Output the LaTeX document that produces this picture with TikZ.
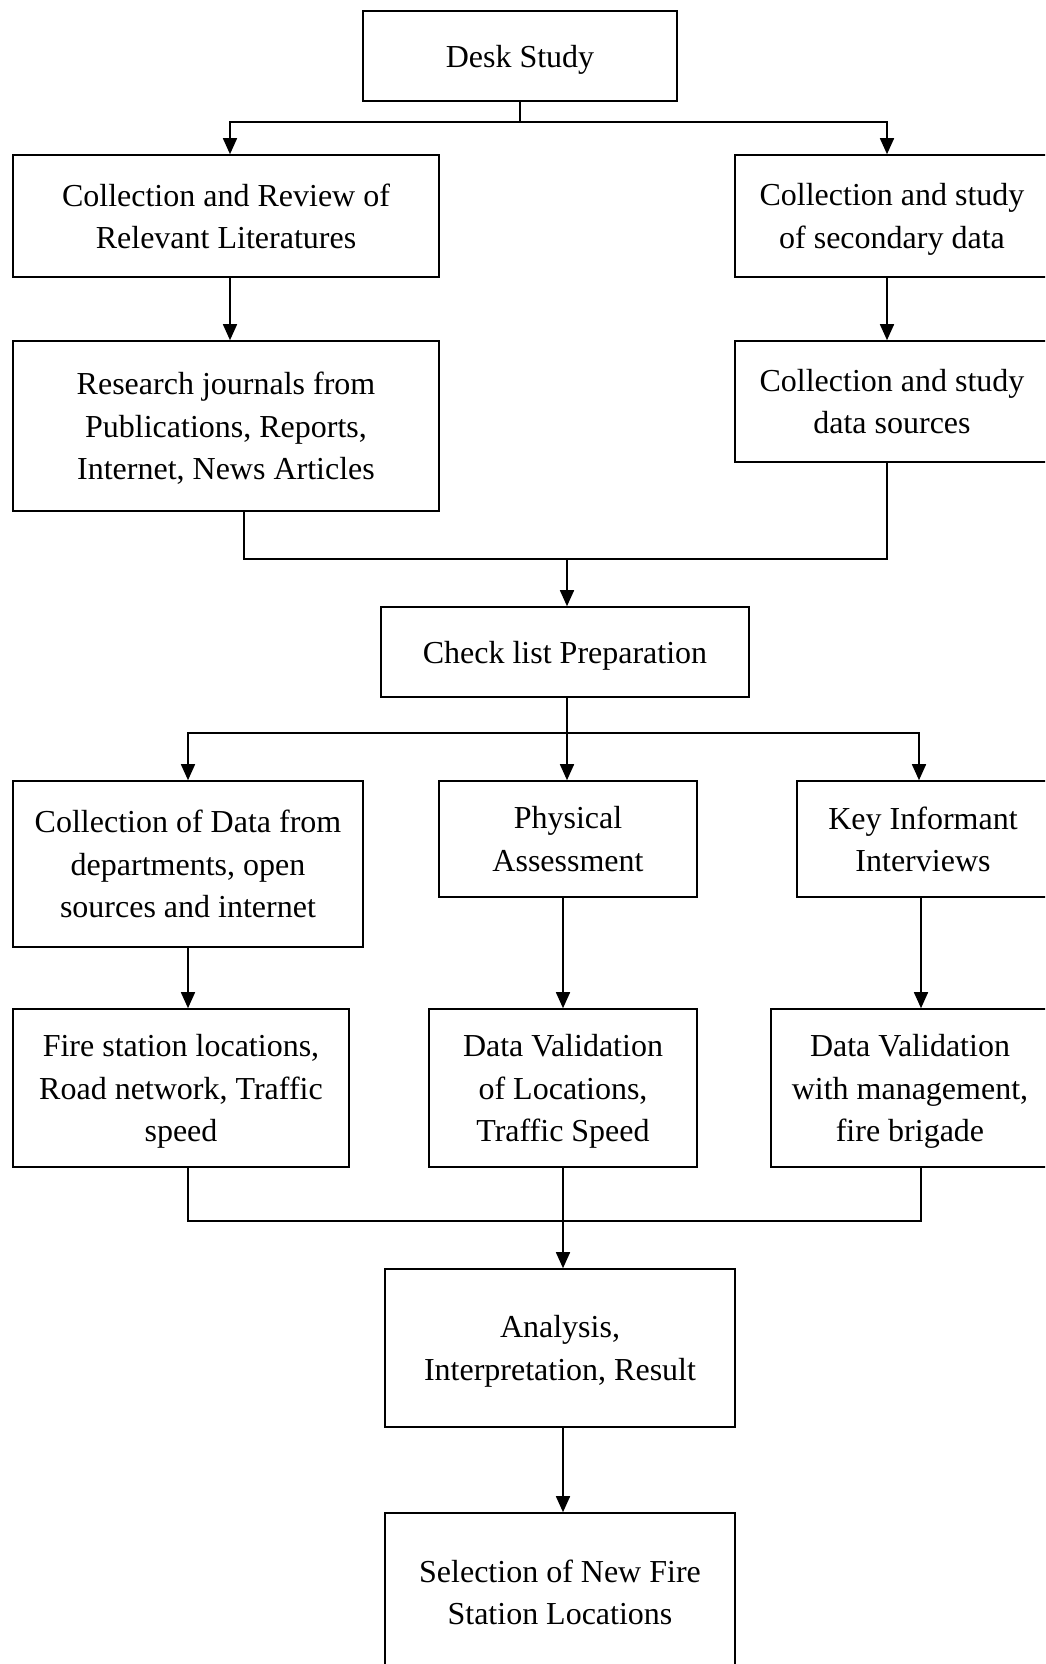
\documentclass[tikz,border=0pt]{standalone}
\usepackage{fontspec}
\setmainfont{Liberation Serif}
\usetikzlibrary{arrows.meta}

\begin{document}
\begin{tikzpicture}[x=0.5pt,y=-0.5pt,
  box/.style={draw,line width=0.8pt,align=center,inner sep=0pt,text depth=0pt,
    font=\fontsize{16}{21.2}\selectfont},
  link/.style={line width=0.8pt},
  arr/.style={line width=0.8pt,-{Triangle[length=8pt,width=7pt]}}]
  \clip (0,0) rectangle (1045,1664);

  \node[box,minimum width=157pt,minimum height=45pt]   (desk)      at (520,56)   {Desk Study};
  \node[box,minimum width=213pt,minimum height=61pt]   (litRev)    at (226,216)  {Collection and Review of\\Relevant Literatures};
  \node[box,minimum width=157pt,minimum height=61pt]   (secData)   at (892,216)  {Collection and study\\of secondary data};
  \node[box,minimum width=213pt,minimum height=85pt]   (journals)  at (226,426)  {Research journals from\\Publications, Reports,\\Internet, News Articles};
  \node[box,minimum width=157pt,minimum height=60.5pt] (dataSrc)   at (892,401.5){Collection and study\\data sources};
  \node[box,minimum width=184pt,minimum height=45pt]   (checkList) at (565,652)  {Check list Preparation};
  \node[box,minimum width=175pt,minimum height=83pt]   (collData)  at (188,864)  {Collection of Data from\\departments, open\\sources and internet};
  \node[box,minimum width=129pt,minimum height=58pt]   (physAss)   at (568,839)  {Physical\\Assessment};
  \node[box,minimum width=126pt,minimum height=58pt]   (keyInf)    at (923,839)  {Key Informant\\Interviews};
  \node[box,minimum width=168pt,minimum height=79pt]   (fireLoc)   at (181,1088) {Fire station locations,\\Road network, Traffic\\speed};
  \node[box,minimum width=134pt,minimum height=79pt]   (valLoc)    at (563,1088) {Data Validation\\of Locations,\\Traffic Speed};
  \node[box,minimum width=139pt,minimum height=79pt]   (valMgmt)   at (910,1088) {Data Validation\\with management,\\fire brigade};
  \node[box,minimum width=175pt,minimum height=79pt]   (analysis)  at (560,1348) {Analysis,\\Interpretation, Result};
  \node[box,minimum width=175pt,minimum height=79pt]   (selection) at (560,1592) {Selection of New Fire\\Station Locations};

  \coordinate (splitA) at (520,122);
  \coordinate (mergeA) at (567,559);
  \coordinate (splitB) at (567,733);
  \coordinate (mergeB) at (563,1221);

  \draw[link] (desk) -- (splitA);
  \draw[arr] (splitA) -| ([xshift=2pt]litRev.north);
  \draw[arr] (splitA) -| ([xshift=-2.5pt]secData.north);
  \draw[arr] ([xshift=2pt]litRev.south) -- ([xshift=2pt]journals.north);
  \draw[arr] ([xshift=-2.5pt]secData.south) -- ([xshift=-2.5pt]dataSrc.north);
  \draw[link] ([xshift=9pt]journals.south) |- (mergeA) -| ([xshift=-2.5pt]dataSrc.south);
  \draw[arr] (mergeA) -- (mergeA |- checkList.north);

  \draw[link] (checkList.south -| splitB) -- (splitB);
  \draw[arr] (splitB) -| (collData.north);
  \draw[arr] (splitB) -- (splitB |- physAss.north);
  \draw[arr] (splitB) -| ([xshift=-2pt]keyInf.north);
  \draw[arr] (collData.south) -- (collData.south |- fireLoc.north);
  \draw[arr] (valLoc.north |- physAss.south) -- (valLoc.north);
  \draw[arr] ([xshift=-1pt]keyInf.south) -- ([xshift=-1pt]keyInf.south |- valMgmt.north);

  \draw[link] (fireLoc.south -| collData.south) |- (mergeB) -| ([xshift=-1pt]valMgmt.south -| keyInf.south);
  \draw[arr] (valLoc.south) -- (valLoc.south |- analysis.north);
  \draw[arr] (analysis.south -| valLoc.south) -- (selection.north -| valLoc.south);
\end{tikzpicture}
\end{document}
